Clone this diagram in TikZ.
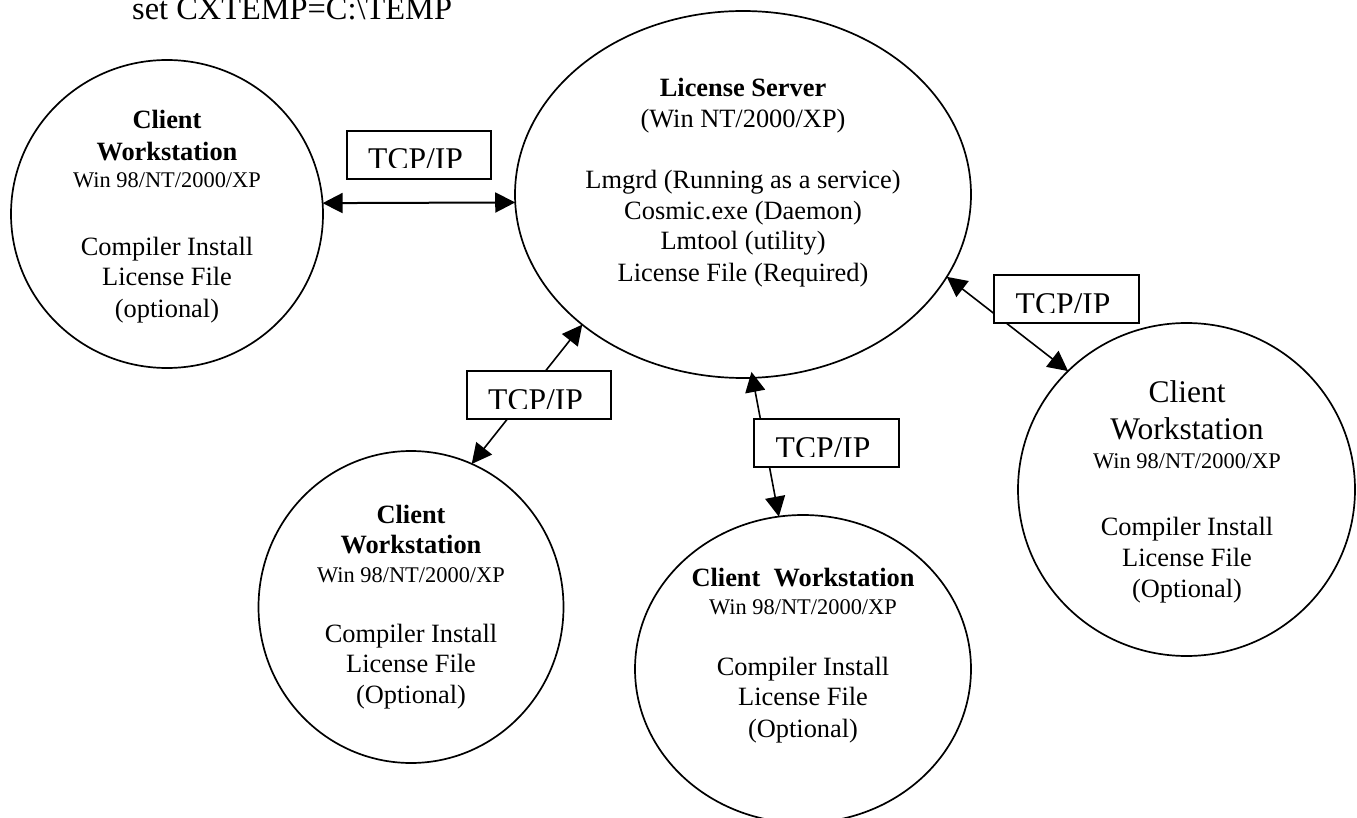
\documentclass[tikz,border=0pt]{standalone}
\usepackage{fontspec}
\setmainfont{Liberation Serif}
\usetikzlibrary{arrows.meta,shapes.geometric}
\newcommand{\fa}{\fontsize{26.4}{30}\selectfont}
\newcommand{\fb}{\fontsize{22.4}{27}\selectfont}
\newcommand{\fc}{\fontsize{31.5}{36}\selectfont}
\tikzset{
  circ/.style={draw=black,line width=1.7pt,ellipse,inner sep=0pt,outer sep=0pt},
  tl/.style={font=\fa,inner sep=0pt,anchor=base},
  tlb/.style={tl,font=\fa\bfseries},
  tls/.style={tl,font=\fb},
  tlc/.style={tl,font=\fc},
  tcpbox/.style={draw=black,fill=white,line width=1.8pt,inner sep=0pt,outer sep=0pt,minimum width=144.5pt,minimum height=48pt},
  tcptext/.style={font=\fontsize{31.6}{36}\selectfont,inner sep=0pt,anchor=base west},
  link/.style={line width=1.6pt,{Triangle[length=20pt,width=20pt]}-{Triangle[length=20pt,width=20pt]}}
}
\begin{document}
\begin{tikzpicture}[x=1pt,y=-1pt]
\useasboundingbox[fill=white] (0,0) rectangle (1357,818);
\node[circ,minimum width=312pt,minimum height=308pt] (c1) at (167,214) {};
\node[circ,minimum width=456pt,minimum height=367pt] (srv) at (743,194.5) {};
\node[circ,minimum width=305pt,minimum height=312pt] (c2) at (411,607) {};
\node[circ,minimum width=336pt,minimum height=308pt] (c3) at (803,669) {};
\node[circ,minimum width=337pt,minimum height=333pt] (c4) at (1186.5,489.5) {};
\draw[link,line width=2pt] (c1.4.4) -- (srv.182.4);
\draw[link] (c2.67.9) -- (srv.219.3);
\draw[link,shorten >=-6pt] (c3.99.2) -- (srv.273.9);
\draw[link] (c4.135.1) -- (srv.338.9);
\node[tcpbox] (t1) at (419,155) {};
\node[tcpbox] (t2) at (539,395) {};
\node[tcpbox] (t3) at (826.5,443) {};
\node[tcpbox] (t4) at (1066.5,299) {};
\foreach \b/\n in {t1/ta,t2/tb,t3/tc,t4/td}{
  \begin{scope}
    \clip ([xshift=-70pt,yshift=22pt]\b.center) rectangle ([xshift=70pt,yshift=-13pt]\b.center);
    \node[tcptext] (\n) at ([xshift=-51pt,yshift=-15pt]\b.center) {TCP/IP};
  \end{scope}
}
\node[anchor=base west,inner sep=0pt,font=\fontsize{32.4}{36}\selectfont] (cx) at (132,19.5) {set CXTEMP=C:\textbackslash TEMP};
% left client
\node[tlb] (l1a) at (167,129) {Client};
\node[tlb] (l1b) at (167,161) {Workstation};
\node[tls] (l1c) at (167,188) {Win 98/NT/2000/XP};
\node[tl] (l1d) at (167,256) {Compiler Install};
\node[tl] (l1e) at (167,286) {License File};
\node[tl] (l1f) at (167,317) {(optional)};
% server
\node[tlb] (s1) at (743,97) {License Server};
\node[tl] (s2) at (743,128) {(Win NT/2000/XP)};
\node[tl] (s3) at (743,189) {Lmgrd (Running as a service)};
\node[tl] (s4) at (743,220) {Cosmic.exe (Daemon)};
\node[tl] (s5) at (743,250) {Lmtool (utility)};
\node[tl] (s6) at (743,282) {License File (Required)};
% lower-left client
\node[tlb] (l2a) at (411,523) {Client};
\node[tlb] (l2b) at (411,553) {Workstation};
\node[tls] (l2c) at (411,582) {Win 98/NT/2000/XP};
\node[tl] (l2d) at (411,642) {Compiler Install};
\node[tl] (l2e) at (411,672) {License File};
\node[tl] (l2f) at (411,703) {(Optional)};
% lower-middle client
\node[tlb] (l3a) at (803,586) {Client\ \ Workstation};
\node[tls] (l3c) at (803,614) {Win 98/NT/2000/XP};
\node[tl] (l3d) at (803,675) {Compiler Install};
\node[tl] (l3e) at (803,705) {License File};
\node[tl] (l3f) at (803,737) {(Optional)};
% right client
\node[tlc] (l4a) at (1187,402) {Client};
\node[tlc] (l4b) at (1187,439) {Workstation};
\node[tls] (l4c) at (1187,468) {Win 98/NT/2000/XP};
\node[tl] (l4d) at (1187,535) {Compiler Install};
\node[tl] (l4e) at (1187,566) {License File};
\node[tl] (l4f) at (1187,597) {(Optional)};
\end{tikzpicture}
\end{document}
